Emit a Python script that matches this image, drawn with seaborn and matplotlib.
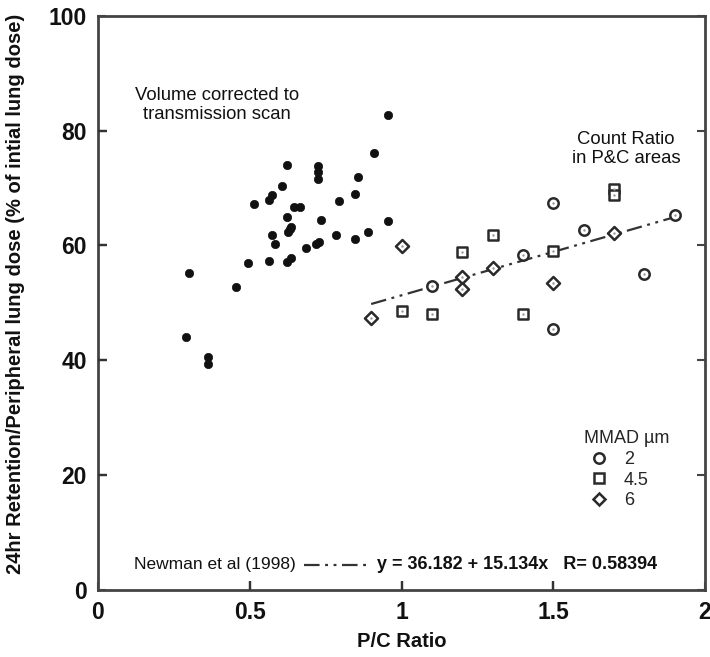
import numpy as np
import pandas as pd
import matplotlib
matplotlib.use("Agg")
import matplotlib.pyplot as plt
from matplotlib.lines import Line2D
import seaborn as sns

# ---- data ----
vol_x = [0.954, 0.908, 0.624, 0.726, 0.726, 0.726, 0.858, 0.607, 0.848, 0.574,
         0.564, 0.515, 0.795, 0.647, 0.667, 0.624, 0.736, 0.954, 0.637, 0.627,
         0.632, 0.574, 0.785, 0.888, 0.848, 0.584, 0.719, 0.729, 0.686, 0.495,
         0.564, 0.624, 0.637, 0.300, 0.455, 0.290, 0.363, 0.363]
vol_y = [82.8, 76.1, 74.0, 73.8, 72.8, 71.5, 71.9, 70.3, 69.0, 68.8,
         67.9, 67.2, 67.8, 66.7, 66.7, 65.0, 64.5, 64.3, 63.2, 62.4,
         62.8, 61.8, 61.8, 62.4, 61.1, 60.3, 60.3, 60.6, 59.6, 57.0,
         57.3, 57.1, 57.8, 55.2, 52.8, 44.1, 40.6, 39.4]

c2_x = [1.1, 1.4, 1.5, 1.5, 1.6, 1.8, 1.9]
c2_y = [53.0, 58.4, 67.4, 45.5, 62.7, 55.0, 65.3]
c45_x = [1.0, 1.1, 1.2, 1.3, 1.4, 1.5, 1.7, 1.7]
c45_y = [48.6, 48.1, 58.9, 61.8, 48.1, 59.1, 69.9, 68.8]
c6_x = [0.9, 1.0, 1.2, 1.2, 1.3, 1.5, 1.7]
c6_y = [47.4, 59.9, 54.5, 52.4, 56.1, 53.4, 62.2]

mmad_labels = ["2", "4.5", "6"]
fit_intercept = 36.182
fit_slope = 15.134
fit_r = 0.58394
fit_range = [0.9, 1.9]

x_ticks = [0, 0.5, 1, 1.5, 2]
x_tick_labels = ["0", "0.5", "1", "1.5", "2"]
y_ticks = [0, 20, 40, 60, 80, 100]
y_tick_labels = ["0", "20", "40", "60", "80", "100"]

# ---- style ----
sns.set_theme(style="white")
plt.rcParams["font.family"] = ["Liberation Sans", "DejaVu Sans"]

fig = plt.figure(figsize=(7.10, 6.57), dpi=100)
ax = fig.add_axes([0.138, 0.102, 0.855, 0.874])

# axes limits / ticks first
ax.set_xlim(0, 2)
ax.set_ylim(0, 100)
ax.set_xticks(x_ticks)
ax.set_xticklabels(x_tick_labels)
ax.set_yticks(y_ticks)
ax.set_yticklabels(y_tick_labels)

edge = "#2a2a2a"
vol_df = pd.DataFrame({"x": vol_x, "y": vol_y})
sns.scatterplot(data=vol_df, x="x", y="y", ax=ax, color="#111111", s=36,
                edgecolor="#111111", linewidth=0.5, zorder=3, legend=False)

markers = {"2": "o", "4.5": "s", "6": "D"}
sizes = {"2": 56, "4.5": 52, "6": 44}
groups = {"2": (c2_x, c2_y), "4.5": (c45_x, c45_y), "6": (c6_x, c6_y)}
for lab in mmad_labels:
    gx, gy = groups[lab]
    gdf = pd.DataFrame({"x": gx, "y": gy})
    sns.scatterplot(data=gdf, x="x", y="y", ax=ax, marker=markers[lab],
                    s=sizes[lab], facecolor="white", edgecolor=edge,
                    linewidth=1.8, zorder=4, legend=False)
    sns.scatterplot(data=gdf, x="x", y="y", ax=ax, marker="o", s=3,
                    color="#999999", linewidth=0, zorder=5, legend=False)

# regression line
fx = np.array(fit_range)
fy = fit_intercept + fit_slope * fx
dash = (7, 2.5, 1.3, 2.5, 1.3, 2.5)
fit_df = pd.DataFrame({"x": fx, "y": fy})
sns.lineplot(data=fit_df, x="x", y="y", ax=ax, color="#333333", linewidth=1.6,
             dashes=False, zorder=2)
ax.lines[-1].set_dashes(dash)

ax.set_xlim(0, 2)
ax.set_ylim(0, 100)

# spines and ticks
for sp in ax.spines.values():
    sp.set_visible(True)
    sp.set_color("#444444")
    sp.set_linewidth(2.0)
ax.set_axisbelow(False)
ax.tick_params(axis="both", direction="in", length=6, width=1.5, color="#444444",
               left=True, bottom=True, right=True, top=False)
ax.tick_params(axis="both", labelsize=16.5, labelcolor="#111111", pad=8)
for t in ax.get_xticklabels() + ax.get_yticklabels():
    t.set_fontweight("bold")
# inward tick marks on left and bottom edges (drawn from the tick lists)
ax.hlines(y_ticks[1:-1], 0, 0.0145, transform=ax.get_yaxis_transform(),
          color="#333333", linewidth=1.7, zorder=10, clip_on=False)
ax.vlines(x_ticks[1:-1], 0, 0.0155, transform=ax.get_xaxis_transform(),
          color="#333333", linewidth=1.7, zorder=10, clip_on=False)

ax.set_xlabel("P/C Ratio", fontsize=14.5, fontweight="bold", color="#111111", labelpad=6)
ax.set_ylabel("24hr Retention/Peripheral lung dose (% of intial lung dose)",
              fontsize=14.5, fontweight="bold", color="#111111")
ax.yaxis.set_label_coords(-0.121, 0.515)
ax.grid(False)

# annotations
ax.text(0.393, 84.5, "Volume corrected to\ntransmission scan", ha="center",
        va="center", fontsize=13.3, color="#111111", linespacing=1.15)
ax.text(1.74, 76.8, "Count Ratio\nin P&C areas", ha="center", va="center",
        fontsize=13.3, color="#111111", linespacing=1.15)

# bottom fit legend
ax.text(0.119, 4.4, "Newman et al (1998)", ha="left", va="center", fontsize=12.5,
        color="#111111")
ax.plot([0.68, 0.894], [4.4, 4.4], color="#333333", linewidth=1.6, dashes=dash)
ax.text(0.92, 4.4, f"y = {fit_intercept} + {fit_slope}x   R= {fit_r}", ha="left",
        va="center", fontsize=13, fontweight="bold", color="#111111")

# MMAD legend
handles = [Line2D([], [], linestyle="none", marker=markers[l], markersize=7.5 if l != "6" else 6.5,
                  markerfacecolor="white", markeredgecolor=edge, markeredgewidth=1.8)
           for l in mmad_labels]
leg = ax.legend(handles, mmad_labels, title="MMAD \u00b5m", frameon=False,
                loc="upper left", bbox_to_anchor=(0.78, 0.30), fontsize=13,
                title_fontsize=13, handletextpad=0.6, labelspacing=0.2,
                borderpad=0.2, handlelength=1.6)
leg._legend_box.align = "left"

fig.savefig("out.png", dpi=100)
